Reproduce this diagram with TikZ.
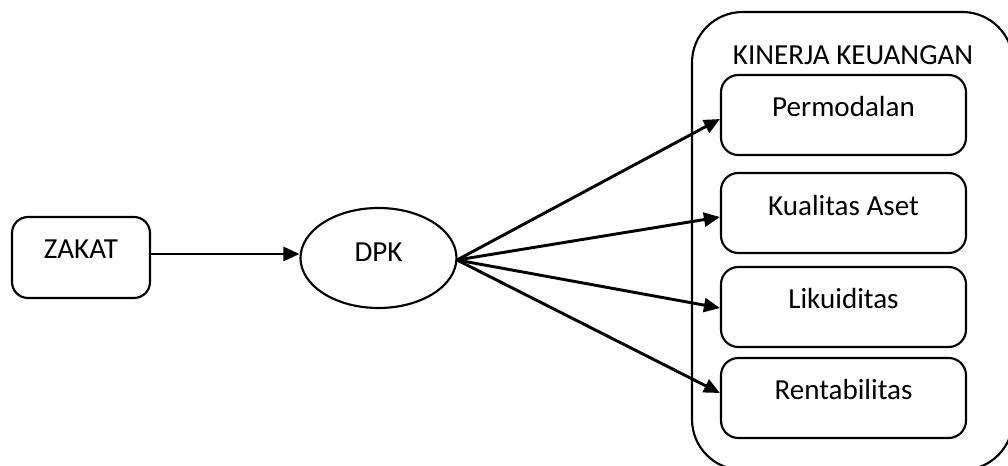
\documentclass[tikz,border=0pt]{standalone}
\usepackage{fontspec}
\setmainfont{Carlito}
\usetikzlibrary{arrows.meta,shapes.geometric}
\begin{document}
\begin{tikzpicture}[x=0.75pt,y=-0.75pt,
  every node/.style={font=\fontsize{21.8pt}{26pt}\selectfont},
  box/.style={draw,line width=1.6pt,rounded corners=13pt,minimum width=183.75pt,minimum height=60pt,inner sep=0pt},
  lbl/.style={inner sep=0pt,anchor=base},
  arr/.style={line width=2.2pt,-{Triangle[length=12pt,width=10.5pt]}}]
\useasboundingbox (0,0) rectangle (1008,466);
\begin{scope}
\clip (0,0) rectangle (1008,466);
\draw[line width=1.6pt,rounded corners=38pt] (692,12) rectangle (1013,470);
\end{scope}
\node[lbl] (title) at (853,64.5) {KINERJA KEUANGAN};
\node[draw,line width=1.6pt,rounded corners=12pt,minimum width=103.5pt,minimum height=60.75pt,inner sep=0pt] (zakat) at (81,257.5) {};
\node[lbl] (zakatt) at (81,259) {ZAKAT};
\node[draw,line width=1.6pt,ellipse,minimum width=117pt,minimum height=75pt,inner sep=0pt] (dpk) at (378.5,258) {};
\node[lbl] (dpkt) at (378.5,262) {DPK};
\node[box] (perm) at (843.5,115) {};
\node[lbl] (permt) at (843.5,117) {Permodalan};
\node[box] (kual) at (843.5,213) {};
\node[lbl] (kualt) at (843.5,216) {Kualitas Aset};
\node[box] (liku) at (843.5,307) {};
\node[lbl] (likut) at (843.5,309) {Likuiditas};
\node[box] (rent) at (843.5,398) {};
\node[lbl] (rentt) at (843.5,400) {Rentabilitas};
\coordinate (hub) at (457,260);
\draw[arr] (zakat.east |- 0,254) -- (dpk.west |- 0,254);
\draw[arr] (hub) -- (perm.west |- 0,119);
\draw[arr] (hub) -- (kual.west |- 0,217);
\draw[arr] (hub) -- (liku.west |- 0,308);
\draw[arr] (hub) -- (rent.west |- 0,393);
\end{tikzpicture}
\end{document}
